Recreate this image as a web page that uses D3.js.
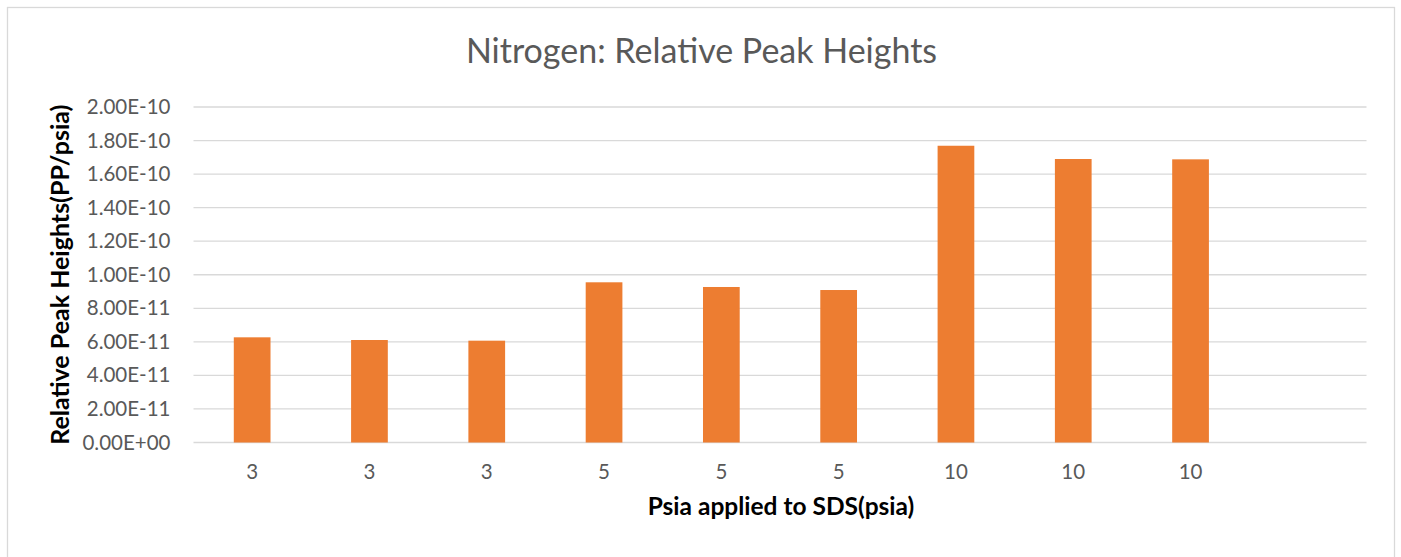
<!DOCTYPE html>
<meta charset="utf-8">
<title>Nitrogen: Relative Peak Heights</title>
<style>
  body { margin: 0; background: #fff; font-family: Lato, "Open Sans", sans-serif; }
  .grid line { stroke: #d9d9d9; stroke-width: 1.3; }
  .tick-label { fill: #595959; }
</style>
<body>
<svg id="chart" width="1401" height="557"></svg>
<script src="https://cdn.jsdelivr.net/npm/d3@7"></script>
<script>
// data
var categories = ["3", "3", "3", "5", "5", "5", "10", "10", "10", ""];
var peakHeights = [6.27e-11, 6.11e-11, 6.07e-11, 9.55e-11, 9.27e-11, 9.09e-11, 1.769e-10, 1.69e-10, 1.688e-10, null];
var yTicks = [0, 2e-11, 4e-11, 6e-11, 8e-11, 1e-10, 1.2e-10, 1.4e-10, 1.6e-10, 1.8e-10, 2e-10];

var W = 1401, H = 557;
var margin = {left: 193.5, right: W - 1366.5, top: 107, bottom: H - 442.5};

var svg = d3.select("#chart");

// outer chart frame
svg.append("rect")
  .attr("x", 7.5).attr("y", 7.5)
  .attr("width", 1387).attr("height", 560)
  .attr("fill", "none").attr("stroke", "#d9d9d9").attr("stroke-width", 1.3);

var x = d3.scaleBand()
  .domain(d3.range(categories.length))
  .range([margin.left, W - margin.right])
  .padding(0);

var y = d3.scaleLinear()
  .domain([0, 2e-10])
  .range([H - margin.bottom, margin.top]);

// gridlines
svg.append("g").attr("class", "grid")
  .selectAll("line").data(yTicks).enter()
  .append("line")
  .attr("x1", margin.left).attr("x2", W - margin.right)
  .attr("y1", function(d){ return y(d); })
  .attr("y2", function(d){ return y(d); });

// y axis labels
var yAxis = d3.axisLeft(y).tickValues(yTicks).tickSize(0).tickPadding(23)
  .tickFormat(function(d){
    var s = d.toExponential(2).toUpperCase();
    return s.replace(/E([+-])(\d)$/, "E$10$2");
  });
var gy = svg.append("g")
  .attr("transform", "translate(" + margin.left + ",0)")
  .call(yAxis);
gy.select(".domain").remove();
gy.selectAll("text").attr("class", "tick-label")
  .style("font-size", "20.5px").style("font-family", "Lato, sans-serif");

// x axis labels
var xAxis = d3.axisBottom(x).tickSize(0).tickPadding(22)
  .tickFormat(function(i){ return categories[i]; });
var gx = svg.append("g")
  .attr("transform", "translate(0," + (H - margin.bottom) + ")")
  .call(xAxis);
gx.select(".domain").remove();
gx.selectAll("text").attr("class", "tick-label")
  .style("font-size", "20.5px").style("font-family", "Lato, sans-serif");

// bars
var barW = x.bandwidth() * 0.313;
svg.append("g")
  .selectAll("rect")
  .data(peakHeights.map(function(v, i){ return {i: i, v: v}; }).filter(function(d){ return d.v != null; }))
  .enter().append("rect")
  .attr("x", function(d){ return x(d.i) + (x.bandwidth() - barW) / 2; })
  .attr("width", barW)
  .attr("y", function(d){ return y(d.v); })
  .attr("height", function(d){ return y(0) - y(d.v); })
  .attr("fill", "#ed7d31");

// titles
svg.append("text")
  .attr("x", 701.5).attr("y", 63)
  .attr("text-anchor", "middle")
  .style("font-size", "34px").style("fill", "#595959")
  .text("Nitrogen: Relative Peak Heights");

svg.append("text")
  .attr("x", (margin.left + W - margin.right) / 2 + 1).attr("y", 515)
  .attr("text-anchor", "middle")
  .style("font-size", "24.5px").style("font-weight", "bold").style("fill", "#000")
  .text("Psia applied to SDS(psia)");

svg.append("text")
  .attr("transform", "translate(69," + ((margin.top + H - margin.bottom) / 2) + ") rotate(-90)")
  .attr("text-anchor", "middle")
  .style("font-size", "25px").style("font-weight", "bold").style("fill", "#000")
  .text("Relative Peak Heights(PP/psia)");
</script>
</body>
